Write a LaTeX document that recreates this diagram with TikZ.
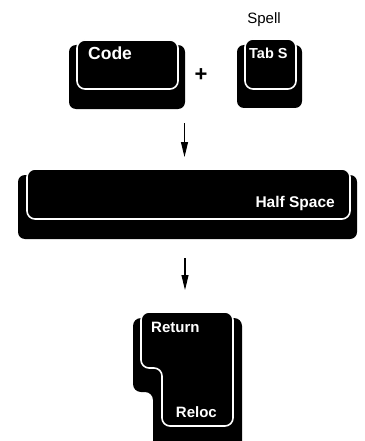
\documentclass[tikz,border=0pt]{standalone}
\usepackage{fontspec}
\setmainfont{Liberation Sans}
\usetikzlibrary{arrows.meta}
\begin{document}
\begin{tikzpicture}[x=1pt,y=-1pt,
  keybody/.style={fill=black, rounded corners=7pt},
  keyface/.style={fill=black, draw=white, line width=1.6pt, rounded corners=8pt},
  keylabel/.style={text=white, font=\fontsize{15}{18}\selectfont\bfseries, inner sep=0pt},
  flow/.style={line width=1.1pt, -{Triangle[length=15pt,width=7pt]}}]
\useasboundingbox (0,0) rectangle (364,441);

% Code key
\fill[keybody] (69,45) rectangle (185,109);
\draw[keyface] (77,40) rectangle (178,89);
\node[keylabel, font=\fontsize{17.5}{20}\selectfont\bfseries, anchor=base west] (code) at (88,60) {Code};

% plus sign
\node[font=\fontsize{22}{24}\selectfont\bfseries, inner sep=0pt] (plus) at (201,75) {+};

% Tab S key with its caption
\fill[keybody] (237,45) rectangle (302,108);
\draw[keyface] (245,39) rectangle (296,89);
\node[keylabel, font=\fontsize{14.5}{17}\selectfont\bfseries, anchor=base west] (tabs) at (249,59) {Tab S};
\node[font=\fontsize{15}{17}\selectfont, inner sep=0pt, anchor=base] (spell) at (264,24) {Spell};

% Half Space bar
\fill[keybody] (18,175) rectangle (357,239);
\draw[keyface] (27,169) rectangle (350,219);
\node[keylabel, font=\fontsize{15.5}{18}\selectfont\bfseries, anchor=base east] (half) at (335,207) {Half Space};

% Return / Reloc key (stepped shape)
\fill[rounded corners=8pt] (153,441) -- (153,392) -- (133,392) -- (133,318)
  -- (242,318) [sharp corners] -- (242,441) -- cycle;
\draw[keyface] (141,312) -- (141,368) -- (162,368) -- (162,426)
  -- (233,426) -- (233,312) -- cycle;
\node[keylabel, anchor=base west] (ret) at (151,332) {Return};
\node[keylabel, anchor=base east] (reloc) at (217,417) {Reloc};

% flow arrows
\coordinate (a1) at (184.5,123);
\coordinate (b1) at (184.5,157);
\coordinate (a2) at (185,258);
\coordinate (b2) at (185,290);
\draw[flow] (a1) -- (b1);
\draw[flow] (a2) -- (b2);
\end{tikzpicture}
\end{document}
